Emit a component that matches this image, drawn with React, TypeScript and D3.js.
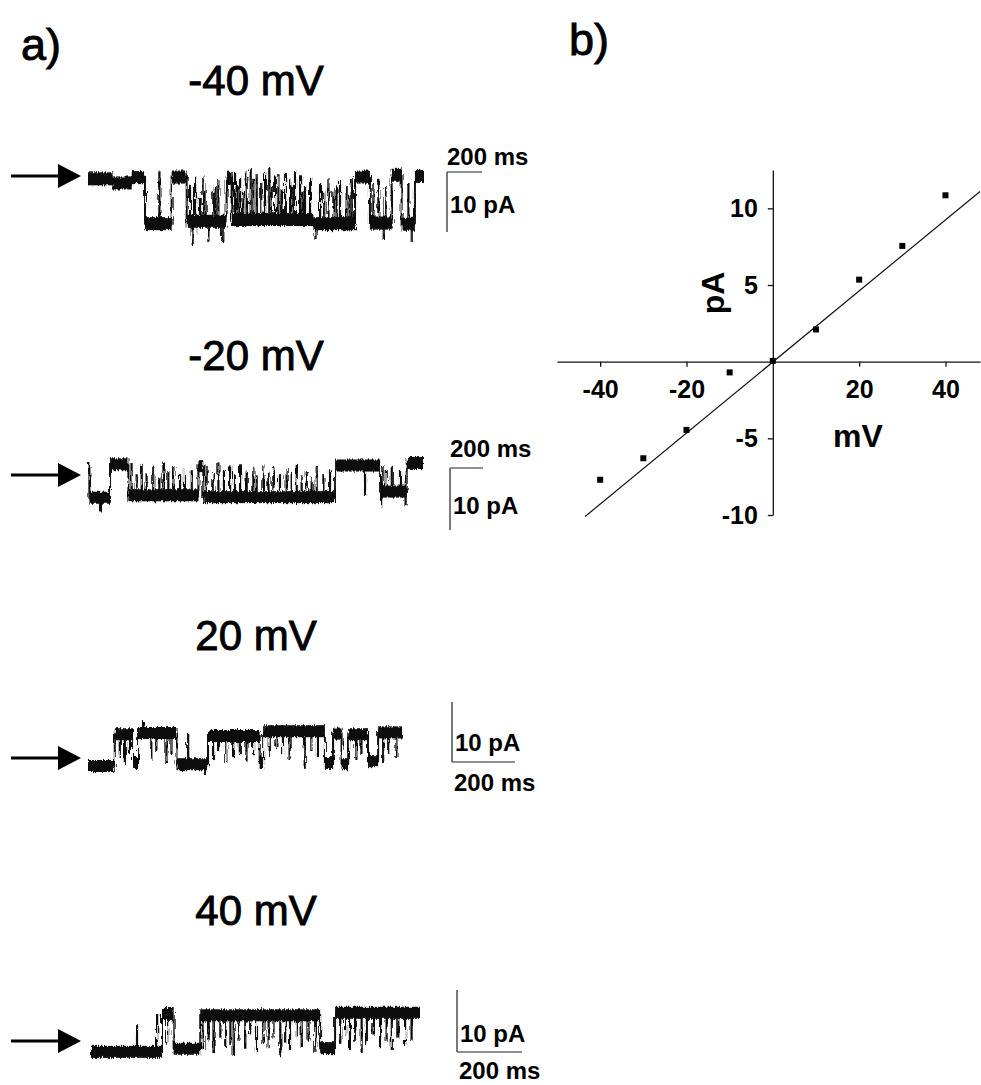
import { useEffect, useRef } from 'react';
import * as d3 from 'd3';

const FONT = '"Liberation Sans", Arial, Helvetica, sans-serif';

const traceTitles = ['-40 mV', '-20 mV', '20 mV', '40 mV'];

// dwell segments: [start ms, end ms, current pA]
const segsM40 = [
  [0, 140, 0.2], [140, 250, -0.5], [250, 326, 0.4], [326, 478, -7.4], [478, 564, 0.5],
  [564, 792, -7.0], [792, 821, 0.3], [821, 1288, -6.7], [1288, 1526, -7.4], [1526, 1611, 0.5],
  [1611, 1735, -7.3], [1735, 1792, 0.8], [1792, 1868, -7.5], [1868, 1920, 0.6],
];
// brief events: [time ms, peak pA]
const flickM40 = [
  [408, 1.5], [583, -1], [598, -11], [612, 0.5], [628, -9], [640, -3], [659, 0.8], [672, -2],
  [688, -10.5], [716, -2], [730, -1], [745, 0], [760, -9.5], [773, -10.5], [840, 1.2], [855, -1],
  [869, 0.5], [888, -2], [907, 1.6], [930, 1.8], [945, 0.2], [964, 1.0], [990, -0.5], [1012, 1.3],
  [1036, 2.2], [1050, -1], [1069, 0.6], [1088, 1.0], [1105, -1.5], [1126, 1.2], [1155, 0.3],
  [1170, -1], [1183, 1.4], [1212, 0.8], [1226, -2], [1240, -1], [1269, 0.5], [1300, -10],
  [1326, -0.5], [1350, -2], [1374, 0.3], [1402, -2], [1420, -1], [1440, 0], [1478, -1],
  [1495, -2.5], [1507, 0.2], [1631, -0.5], [1659, 0.2], [1690, -10], [1700, -1], [1831, -0.5],
  [1850, -10.5],
];

const segsM20 = [
  [0, 8, 0], [8, 126, -4.8], [126, 231, 0.6], [231, 631, -4.4], [631, 659, 0.3],
  [659, 1412, -4.7], [1412, 1669, 0.4], [1669, 1821, -3.8], [1821, 1920, 0.8],
];
const flickM20 = [
  [69, -7], [249, 0.8], [278, -1], [307, 0.5], [335, -0.8], [373, 0.2], [408, -1.5], [431, 0.9],
  [459, -0.5], [488, 0.3], [526, -1], [554, 0], [593, -0.5], [678, 0.5], [716, -0.8], [745, 0.9],
  [777, -0.3], [812, 0.4], [840, -1], [869, 0.6], [907, -0.5], [945, 0.2], [964, -1.2],
  [1002, 0.4], [1031, -0.6], [1059, 0.3], [1097, -1], [1135, 0], [1164, -0.8], [1193, 0.5],
  [1221, -1.2], [1250, -0.5], [1278, -1.5], [1307, 0.2], [1345, -1], [1383, -0.2],
  [1583, -4.5], [1675, -6.5], [1688, 0.3], [1707, -0.5], [1736, 0.2], [1783, -0.2], [1815, -6],
];

const segsP20 = [
  [0, 85, 0], [85, 143, 5.3], [143, 159, 0.5], [159, 281, 5.5], [281, 381, 0.3],
  [381, 545, 5.0], [545, 556, 0.5], [556, 752, 5.8], [752, 778, 0.5], [778, 805, 5.4],
  [805, 826, 0.3], [826, 889, 5.3], [889, 921, 0.8], [921, 1000, 5.6],
];
const flickP20 = [
  [101, 1.5], [117, 0.5], [133, 2.0], [175, 7.5], [201, 1.0], [217, 2.5], [249, 0.5], [265, 2.0],
  [318, 5.5], [371, -1.5], [397, 1.0], [413, 2.5], [439, 0.5], [461, 1.5], [482, 2.0], [503, 0.8],
  [524, 1.8], [577, 1.5], [598, 3.0], [619, 2.0], [640, 1.0], [688, -0.3], [709, 2.5], [730, 1.5],
  [852, 1.0], [868, 2.0], [937, 0.5], [953, 2.0], [979, 1.5],
];

const segsP40 = [
  [0, 219, -0.3], [219, 255, 5.8], [255, 337, 0.2], [337, 707, 5.6], [707, 753, 0.3],
  [753, 1015, 6.0],
];
const flickP40 = [
  [142, 4.0], [204, 5.8], [235, 1.0], [347, 0], [363, 1.5], [378, -0.5], [399, 2], [414, 0.5],
  [430, 1.0], [440, -0.8], [455, 1.5], [476, 0.2], [491, 2.5], [512, -0.5], [532, 1.0],
  [548, 0.3], [563, 2.0], [584, -1.0], [599, 1.2], [614, 0.0], [635, 2.2], [650, 0.5],
  [671, 1.5], [692, -0.3], [769, 1.0], [784, 2.5], [799, 0.0], [815, 1.5], [835, -0.5],
  [851, 1.0], [871, 2.5], [892, 0.3], [912, 1.5], [928, 0], [948, 2.0], [969, 0.8], [989, 1.5],
];

// I-V relation
const ivVoltage = [-40, -30, -20, -10, 0, 10, 20, 30, 40];
const ivCurrent = [-7.7, -6.3, -4.45, -0.7, 0.05, 2.1, 5.35, 7.55, 10.85];
const fitLine = [[-43.5, -10.1], [48, 11.1]];
const ivXTicks = [-40, -20, 20, 40];
const ivYTicks = [-10, -5, 5, 10];

// drawing layout for each record
const traces = [
  { title: traceTitles[0], segs: segsM40, flick: flickM40, tMax: 1920, x0: 88, x1: 424, yZero: 180, pxPer10: 59, titleY: 95, arrowY: 176, band: 13,
    bar: { x: 447, top: 172, bottom: 232, right: 482, horizTop: true, msY: 165, paY: 213 } },
  { title: traceTitles[1], segs: segsM20, flick: flickM20, tMax: 1920, x0: 88, x1: 424, yZero: 468, pxPer10: 62, titleY: 370, arrowY: 475, band: 12,
    bar: { x: 450, top: 468, bottom: 530, right: 483, horizTop: true, msY: 457, paY: 514 } },
  { title: traceTitles[2], segs: segsP20, flick: flickP20, tMax: 1000, x0: 88, x1: 403, yZero: 766, pxPer10: 60, titleY: 650, arrowY: 758, band: 12,
    bar: { x: 452, top: 702, bottom: 762, right: 515, horizTop: false, msY: 791, paY: 751 } },
  { title: traceTitles[3], segs: segsP40, flick: flickP40, tMax: 1015, x0: 91, x1: 420, yZero: 1050, pxPer10: 62, titleY: 925, arrowY: 1041, band: 12,
    bar: { x: 457, top: 990, bottom: 1052, right: 522, horizTop: false, msY: 1079, paY: 1042 } },
];

const App = () => {
  const svgRef = useRef(null);

  useEffect(() => {
    const svg = d3.select(svgRef.current);
    svg.selectAll('*').remove();

    // rough edge for the recorded traces (printed-record look)
    const filt = svg.append('defs').append('filter').attr('id', 'rough')
      .attr('x', '-5%').attr('y', '-30%').attr('width', '110%').attr('height', '160%');
    filt.append('feTurbulence').attr('type', 'fractalNoise').attr('baseFrequency', '0.9 0.08')
      .attr('numOctaves', 2).attr('seed', 3).attr('result', 'n');
    filt.append('feDisplacementMap').attr('in', 'SourceGraphic').attr('in2', 'n')
      .attr('scale', 5).attr('xChannelSelector', 'R').attr('yChannelSelector', 'G');

    // panel letters
    const heading = (sel) => sel.attr('font-family', FONT).attr('fill', '#000')
      .attr('stroke', '#000').attr('stroke-width', 0.9);
    heading(svg.append('text').attr('x', 21).attr('y', 60).text('a)').attr('font-size', 45));
    heading(svg.append('text').attr('x', 569).attr('y', 55).text('b)').attr('font-size', 45));

    traces.forEach((tr) => {
      const x = d3.scaleLinear().domain([0, tr.tMax]).range([tr.x0, tr.x1]);
      const y = d3.scaleLinear().domain([0, 10]).range([tr.yZero, tr.yZero - tr.pxPer10]);
      const g = svg.append('g');

      heading(g.append('text').attr('x', 256).attr('y', tr.titleY).attr('text-anchor', 'middle')
        .attr('font-size', 42).text(tr.title));

      // arrow marking closed level
      g.append('line').attr('x1', 11).attr('x2', 60).attr('y1', tr.arrowY).attr('y2', tr.arrowY)
        .attr('stroke', '#000').attr('stroke-width', 3);
      g.append('path')
        .attr('d', `M58,${tr.arrowY - 12}L81,${tr.arrowY}L58,${tr.arrowY + 12}Z`)
        .attr('fill', '#000');

      const rec = g.append('g').attr('filter', 'url(#rough)');

      // noisy band for each dwell
      rec.selectAll('rect.dwell').data(tr.segs).enter().append('rect')
        .attr('class', 'dwell')
        .attr('x', (d) => x(d[0]))
        .attr('width', (d) => Math.max(1, x(d[1]) - x(d[0])))
        .attr('y', (d) => y(d[2]) - tr.band / 2)
        .attr('height', tr.band)
        .attr('fill', '#0a0a0a');

      // transitions
      const step = d3.line().curve(d3.curveStepAfter)
        .x((d) => x(d[0])).y((d) => y(d[2]));
      rec.append('path').attr('d', step([...tr.segs, [tr.tMax, tr.tMax, tr.segs[tr.segs.length - 1][2]]]))
        .attr('fill', 'none').attr('stroke', '#0a0a0a').attr('stroke-width', 2);

      // brief openings / closings
      const levelAt = (t) => {
        const s = tr.segs.find((d) => t >= d[0] && t < d[1]);
        return s ? s[2] : 0;
      };
      rec.selectAll('line.flick').data(tr.flick).enter().append('line')
        .attr('class', 'flick')
        .attr('x1', (d) => x(d[0])).attr('x2', (d) => x(d[0]))
        .attr('y1', (d) => y(levelAt(d[0])))
        .attr('y2', (d) => y(d[1]))
        .attr('stroke', '#0a0a0a').attr('stroke-width', 2.2);

      // scale bar
      const b = tr.bar;
      const hy = b.horizTop ? b.top : b.bottom;
      g.append('path')
        .attr('d', `M${b.x},${b.top}L${b.x},${b.bottom}M${b.x},${hy}L${b.right},${hy}`)
        .attr('fill', 'none').attr('stroke', '#222').attr('stroke-width', 1.2);
      g.append('text').attr('x', b.horizTop ? b.x : b.x + 2).attr('y', b.msY)
        .attr('font-family', FONT).attr('font-size', 24).attr('font-weight', 'bold').text('200 ms');
      g.append('text').attr('x', b.x + 3).attr('y', b.paY)
        .attr('font-family', FONT).attr('font-size', 24).attr('font-weight', 'bold').text('10 pA');
    });

    // I-V panel
    const xv = d3.scaleLinear().domain([-50, 48]).range([557, 980]);
    const yi = d3.scaleLinear().domain([-10, 12.5]).range([515, 170]);

    const yAxis = svg.append('g').attr('transform', `translate(${xv(0)},0)`)
      .call(d3.axisLeft(yi).tickValues(ivYTicks).tickSize(5).tickSizeOuter(0).tickPadding(10)
        .tickFormat((d) => String(d)));
    const xAxis = svg.append('g').attr('transform', `translate(0,${yi(0)})`)
      .call(d3.axisBottom(xv).tickValues(ivXTicks).tickSize(5).tickSizeOuter(0).tickPadding(14)
        .tickFormat((d) => String(d)));
    [yAxis, xAxis].forEach((ax) => {
      ax.select('.domain').attr('stroke', '#111').attr('stroke-width', 1.3);
      ax.selectAll('.tick line').attr('stroke', '#111').attr('stroke-width', 1.3);
      ax.selectAll('.tick text').attr('font-family', FONT).attr('font-size', 25)
        .attr('font-weight', 'bold').attr('fill', '#000');
    });

    svg.append('line')
      .attr('x1', xv(fitLine[0][0])).attr('y1', yi(fitLine[0][1]))
      .attr('x2', xv(fitLine[1][0])).attr('y2', yi(fitLine[1][1]))
      .attr('stroke', '#111').attr('stroke-width', 1.2);

    svg.selectAll('rect.pt').data(ivVoltage).enter().append('rect')
      .attr('class', 'pt')
      .attr('x', (d) => xv(d) - 3)
      .attr('y', (d, i) => yi(ivCurrent[i]) - 3)
      .attr('width', 6).attr('height', 6).attr('fill', '#000');

    svg.append('text')
      .attr('transform', `translate(724,293) rotate(-90)`)
      .attr('text-anchor', 'middle')
      .attr('font-family', FONT).attr('font-size', 32).attr('font-weight', 'bold').text('pA');
    svg.append('text').attr('x', 858).attr('y', 447).attr('text-anchor', 'middle')
      .attr('font-family', FONT).attr('font-size', 32).attr('font-weight', 'bold').text('mV');
  }, []);

  return (
    <svg ref={svgRef} width={981} height={1085}
      style={{ position: 'absolute', left: 0, top: 0, background: '#fff' }} />
  );
};

export default App;
